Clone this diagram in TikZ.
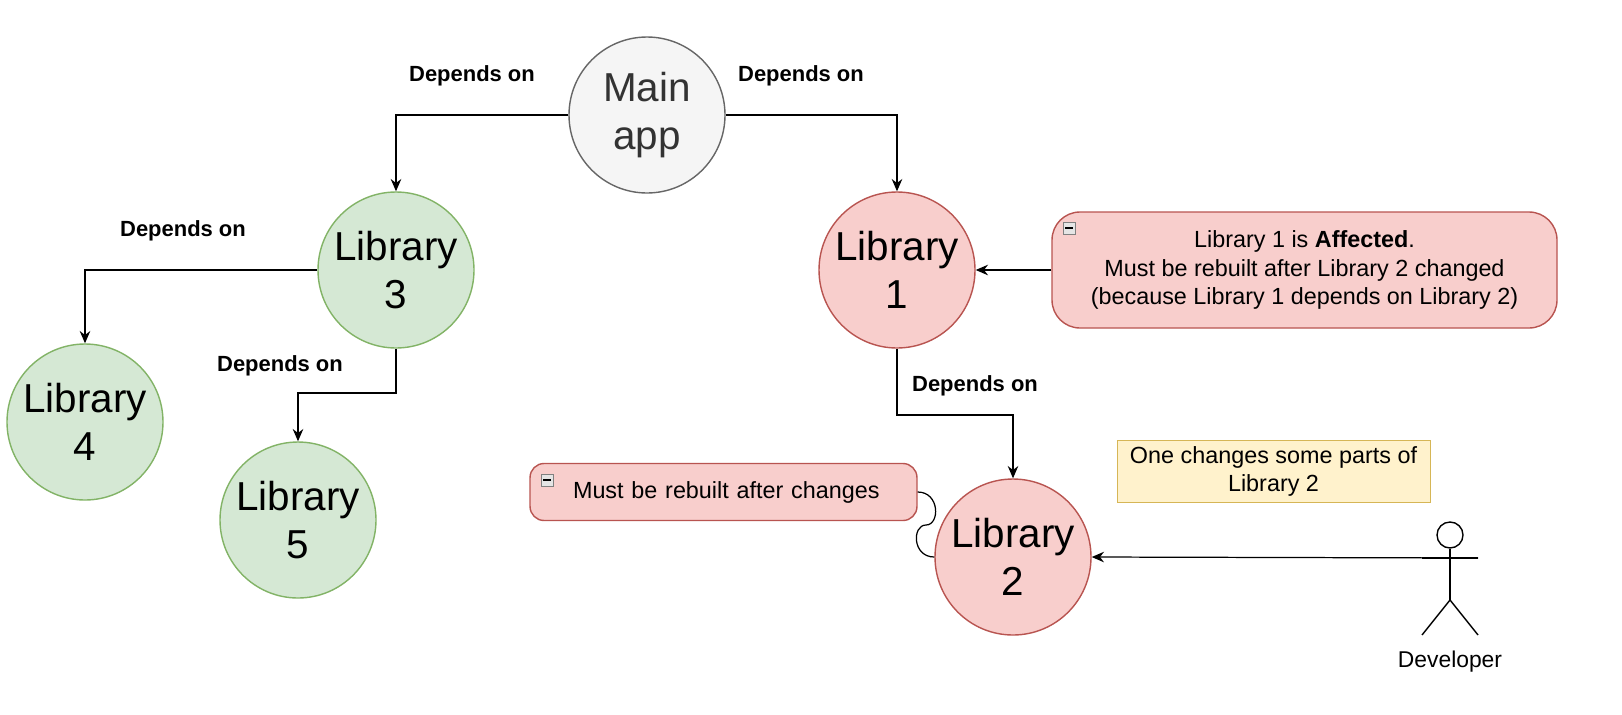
\documentclass[tikz,border=0pt]{standalone}
\usepackage{fontspec}
\setmainfont{Liberation Sans}
\usetikzlibrary{arrows.meta}
\definecolor{gfill}{HTML}{D5E8D4}\definecolor{gdraw}{HTML}{82B366}
\definecolor{rfill}{HTML}{F8CECC}\definecolor{rdraw}{HTML}{B85450}
\definecolor{mfill}{HTML}{F5F5F5}\definecolor{mdraw}{HTML}{666666}
\definecolor{yfill}{HTML}{FFF2CC}\definecolor{ydraw}{HTML}{D6B656}
\begin{document}
\begin{tikzpicture}[x=0.02cm,y=-0.02cm,
 lib/.style={circle,minimum size=156*0.02cm,inner sep=0pt,align=center,font=\fontsize{23}{27}\selectfont,line width=0.8pt},
 glib/.style={lib,fill=gfill,draw=gdraw},
 rlib/.style={lib,fill=rfill,draw=rdraw},
 dep/.style={font=\bfseries\fontsize{12.5}{15}\selectfont},
 arr/.style={-{Stealth[length=7pt,width=6pt]},line width=0.7pt},
 note/.style={rounded corners=28*0.02cm,fill=rfill,draw=rdraw,line width=0.8pt,align=center,font=\fontsize{13.3}{16}\selectfont}]
\useasboundingbox (0,0) rectangle (1622,714);
\node[lib,fill=mfill,draw=mdraw,text=black!80] (main) at (647,115) {Main\\app};
\node[glib] (l3) at (396,270) {Library\\3};
\node[rlib] (l1) at (897,270) {Library\\1};
\node[glib] (l4) at (85,422) {Library\\4};
\node[glib] (l5) at (298,520) {Library\\5};
\node[rlib] (l2) at (1013,557) {Library\\2};
\draw[arr] (main.west) -| (l3.north);
\draw[arr] (main.east) -| (l1.north);
\draw[arr] (l3.west) -| (l4.north);
\draw[arr] (l3.south) |- (298,393) coordinate (c1) -- (l5.north);
\draw[arr] (l1.south) |- (1013,415) coordinate (c2) -- (l2.north);
\node[dep] (d1) at (472,76) {Depends on};
\node[dep] (d2) at (801,76) {Depends on};
\node[dep] (d3) at (183,231) {Depends on};
\node[dep] (d4) at (280,366) {Depends on};
\node[dep] (d5) at (975,386) {Depends on};
\node[note,minimum width=505*0.02cm,minimum height=116*0.02cm] (n1) at (1304.5,270) {Library 1 is \textbf{Affected}.\\Must be rebuilt after Library 2 changed\\(because Library 1 depends on Library 2)};
\draw[arr] (n1.west) -- (l1.east);
\node[note,rounded corners=14*0.02cm,text width=7cm,inner xsep=0.37cm,align=left,minimum height=57*0.02cm] (n2) at (723.5,492) {\hspace*{0.49cm}Must be rebuilt after changes};
\draw[line width=0.7pt] (n2.east) .. controls (940,492) and (940,525) .. (926,525) .. controls (912,525) and (912,557) .. (l2.west);
\node[draw=gray,fill=gray!20,minimum size=12*0.02cm,inner sep=0pt] (m1) at (1069,228) {};
\draw[line width=0.6pt] (1065,228) -- (1073,228);
\node[draw=gray,fill=gray!20,minimum size=12*0.02cm,inner sep=0pt] (m2) at (547,480) {};
\draw[line width=0.6pt] (543,480) -- (551,480);
\node[fill=yfill,draw=ydraw,minimum width=313*0.02cm,minimum height=57*0.02cm,align=center,font=\fontsize{13.3}{16}\selectfont] (y) at (1273.5,471.5) {One changes some parts of\\Library 2};
\node[circle,draw,minimum size=26*0.02cm,inner sep=0pt,line width=0.8pt] (head) at (1450,535) {};
\draw[line width=0.8pt] (head.south) -- (1450,600) coordinate (hip);
\draw[line width=0.8pt] (1422,558) -- (1478,558) coordinate (hand);
\draw[line width=0.8pt] (1422,635) -- (hip) -- (1478,635);
\node[font=\fontsize{13}{15}\selectfont] (dev) at (1450,662) {Developer};
\draw[arr] (hand) -- (l2.east);
\end{tikzpicture}
\end{document}
